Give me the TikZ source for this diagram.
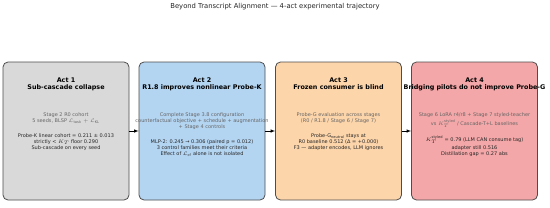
\documentclass[tikz,border=0pt]{standalone}
\usepackage{fontspec}
\setmainfont{DejaVu Sans}
\usepackage{amsmath,amssymb}
\usetikzlibrary{positioning}
\DeclareMathSizes{5}{5}{3.6}{3}

\definecolor{actgray}{HTML}{D9D9D9}
\definecolor{actblue}{HTML}{B4D5F2}
\definecolor{actpeach}{HTML}{FDD5AA}
\definecolor{actpink}{HTML}{F4A7A8}
\definecolor{edgegray}{HTML}{4D4D4D}
\definecolor{notegray}{HTML}{666666}

\begin{document}
\begin{tikzpicture}[x=1pt,y=-1pt,
  actbox/.style={draw=edgegray,line width=.8pt,rounded corners=5pt,minimum width=126pt,minimum height=138pt,inner sep=0pt},
  acthead/.style={anchor=north,align=center,inner sep=0pt,font=\fontsize{6.4}{6.8}\selectfont\bfseries},
  actnote/.style={anchor=north,align=center,inner sep=0pt,text=notegray,font=\fontsize{5}{6}\selectfont},
  actresult/.style={align=center,inner sep=0pt,text=black!85,font=\fontsize{5}{6}\selectfont},
  actarrow/.style={-latex,line width=.6pt}]
  \useasboundingbox[fill=white] (0,0) rectangle (550,207);
  \node[font=\fontsize{6.8}{8}\selectfont,text=black!85] (title) at (275,7) {Beyond Transcript Alignment — 4-act experimental trajectory};

  % the four acts
  \node[actbox,fill=actgray]  (act1) at (66,131)  {};
  \node[actbox,fill=actblue]  (act2) at (202,131) {};
  \node[actbox,fill=actpeach] (act3) at (338.5,131) {};
  \node[actbox,fill=actpink]  (act4) at (474.5,131) {};

  % act 1
  \node[acthead] (head1) at (66,78) {Act 1\\Sub-cascade collapse};
  \node[actnote] (note1) at (66,112) {Stage 2 R0 cohort\\5 seeds, BLSP $\mathcal{L}_{\text{task}}+\mathcal{L}_{\text{KL}}$};
  \node[actresult,below=10pt of note1] (res1) {Probe-K linear cohort = 0.211 ± 0.013\\strictly < $K_T$ floor 0.290\\Sub-cascade on every seed};

  % act 2
  \node[acthead] (head2) at (202,78) {Act 2\\R1.8 improves nonlinear Probe-K};
  \node[actnote] (note2) at (202,112) {Complete Stage 3.8 configuration\\counterfactual objective + schedule + augmentation\\+ Stage 4 controls};
  \node[actresult,below=10pt of note2] (res2) {MLP-2: 0.245 → 0.306 (paired p = 0.012)\\3 control families meet their criteria\\Effect of $\mathcal{L}_{\text{cf}}$ alone is not isolated};

  % act 3
  \node[acthead] (head3) at (338.5,78) {Act 3\\Frozen consumer is blind};
  \node[actnote] (note3) at (338.5,112) {Probe-G evaluation across stages\\(R0 / R1.8 / Stage 6 / Stage 7)};
  \node[actresult,below=10pt of note3] (res3) {Probe-G$_{\text{neutral}}$ stays at\\R0 baseline 0.512 (Δ = +0.000)\\F3 — adapter encodes, LLM ignores};

  % act 4
  \node[acthead] (head4) at (474.5,78) {Act 4\\Bridging pilots do not improve Probe-G};
  \node[actnote] (note4) at (474.5,112) {Stage 6 LoRA r4/r8 + Stage 7 styled-teacher\\[1.8pt]vs $K_T^{\text{styled}}$ / Cascade-T+L baselines};
  \node[actresult,below=8pt of note4] (res4) {$K_T^{\text{styled}}$ = 0.79 (LLM CAN consume tag)\\[1.2pt]adapter still 0.516\\Distillation gap = 0.27 abs};

  \draw[actarrow] (act1) -- (act2);
  \draw[actarrow] (act2) -- (act3);
  \draw[actarrow] (act3) -- (act4);
\end{tikzpicture}
\end{document}
